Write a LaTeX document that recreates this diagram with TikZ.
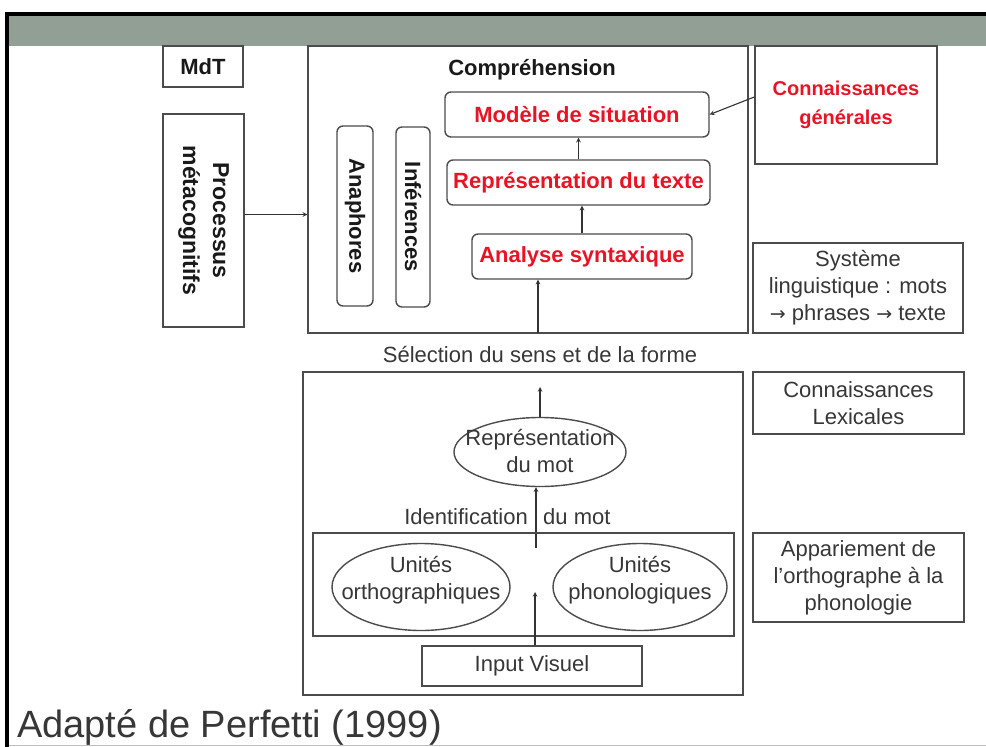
\documentclass[tikz,border=0pt]{standalone}
\usepackage{fontspec}
\setmainfont{Liberation Sans}
\newfontfamily\arrowfont{DejaVu Sans}
\usepackage{tikz}
\usetikzlibrary{arrows,shapes,positioning,calc}
\usepackage{xcolor}
\definecolor{slidegray}{RGB}{145,159,149}
\definecolor{boxred}{RGB}{232,20,38}
\definecolor{inkgray}{RGB}{55,55,55}
\newcommand{\toarrow}{{\arrowfont\fontsize{19}{27}\selectfont →}}

\tikzset{
  box/.style={draw=black!70, line width=1.4pt, inner sep=0pt, align=center, text=inkgray},
  rbox/.style={box, rounded corners=6pt, font=\fontsize{22}{27}\selectfont\bfseries, text=boxred},
  oval/.style={draw=black!70, line width=1.4pt, ellipse, inner sep=0pt},
  arr/.style={->, >=stealth, line width=1.1pt, draw=black!80},
  txt/.style={font=\fontsize{22}{27}\selectfont, text=inkgray, align=center},
  bold/.style={font=\fontsize{22}{27}\selectfont\bfseries, text=black!90, align=center}
}

\begin{document}
\begin{tikzpicture}[x=1pt, y=-1pt, font=\fontsize{22}{27}\selectfont]
    \useasboundingbox (0,0) rectangle (986,747);

    % slide frame
    \fill[white] (0,0) rectangle (986,747);
    \fill[slidegray] (8,15) rectangle (986,46);
    \draw[line width=4pt] (7,747) -- (7,14) -- (986,14);
    \draw[black!25, line width=1pt] (9,745.5) -- (986,745.5);

    % left column
    \node[box, bold, minimum width=80pt, minimum height=41pt] (mdt) at (203,66.5) {MdT};
    \node[box, bold, font=\fontsize{23}{30}\selectfont\bfseries, rotate=-90,
          minimum width=213pt, minimum height=81pt] (proc) at (203.5,220.5) {Processus\\métacognitifs};

    % comprehension block
    \node[box, minimum width=440pt, minimum height=287pt] (compr) at (528,189.5) {};
    \node[bold] (comprt) at (532,70) {Compréhension};
    \node[rbox, minimum width=264pt, minimum height=45pt] (modele) at (577,114.5) {Modèle de situation};
    \node[rbox, minimum width=263pt, minimum height=45pt] (repr) at (578.5,182.5) {Représentation du texte};
    \node[rbox, minimum width=220pt, minimum height=45pt] (analyse) at (582,256.5) {Analyse syntaxique};
    \node[rbox, text=black!90, rotate=-90, minimum width=180pt, minimum height=36pt] (anaph) at (355,216) {Anaphores};
    \node[rbox, text=black!90, rotate=-90, minimum width=180pt, minimum height=34pt] (infer) at (413,217) {Inférences};

    \draw[arr] (repr.north) -- (repr.north |- modele.south);
    \draw[arr] (analyse.north) -- (analyse.north |- repr.south);
    \coordinate (selin) at (538,333);
    \draw[arr] (selin) -- (selin |- analyse.south);
    \draw[arr] ([yshift=6pt]proc.north) -- ([yshift=6pt]proc.north -| compr.west);

    % right column
    \node[box, font=\fontsize{20}{29}\selectfont\bfseries, text=boxred,
          minimum width=182pt, minimum height=118pt] (cg) at (846,105) {Connaissances\\générales};
    \draw[arr] ([yshift=8pt]cg.west) -- (modele.east);
    \node[box, minimum width=210pt, minimum height=90pt] (sys) at (858,288) {Système\\linguistique : mots\\\toarrow{} phrases \toarrow{} texte};
    \node[box, minimum width=211pt, minimum height=62pt] (cl) at (858.5,403) {Connaissances\\Lexicales};
    \node[box, minimum width=211pt, minimum height=89pt] (ap) at (858.5,577.5) {Appariement de\\l'orthographe à la\\phonologie};

    \node[txt] (sel) at (540,355) {Sélection du sens et de la forme};

    % lexical block
    \node[box, minimum width=440pt, minimum height=323pt] (lex) at (523,533.5) {};
    \node[oval, minimum width=172pt, minimum height=69pt] (mot) at (540,452) {};
    \node[txt] (mott) at (540,451) {Représentation\\du mot};
    \coordinate (motup) at (540,387);
    \draw[arr] (mot.north) -- (motup);

    \node[txt, anchor=east, inner sep=0pt] (ident) at (528,517) {Identification};
    \node[txt, anchor=west, inner sep=0pt] (idmot) at (543,517) {du mot};
    \coordinate (idin) at (536,548);
    \draw[arr] (idin) -- (idin |- mot.south);

    % orthography / phonology
    \node[box, minimum width=421pt, minimum height=103pt] (app) at (523.5,584.5) {};
    \node[oval, minimum width=178pt, minimum height=87pt] (ortho) at (421,587) {};
    \node[txt] (orthot) at (421,580) {Unités\\orthographiques};
    \node[oval, minimum width=174pt, minimum height=87pt] (phon) at (640,587) {};
    \node[txt] (phont) at (640,580) {Unités\\phonologiques};

    \node[box, minimum width=220pt, minimum height=40pt] (input) at (532,666) {Input Visuel};
    \coordinate (inup) at (535,592);
    \draw[arr] (inup |- input.north) -- (inup);

    % source
    \node[anchor=base west, inner sep=0pt, font=\fontsize{38}{40}\selectfont, text=inkgray] (src) at (17,737) {Adapté de Perfetti (1999)};
\end{tikzpicture}
\end{document}
